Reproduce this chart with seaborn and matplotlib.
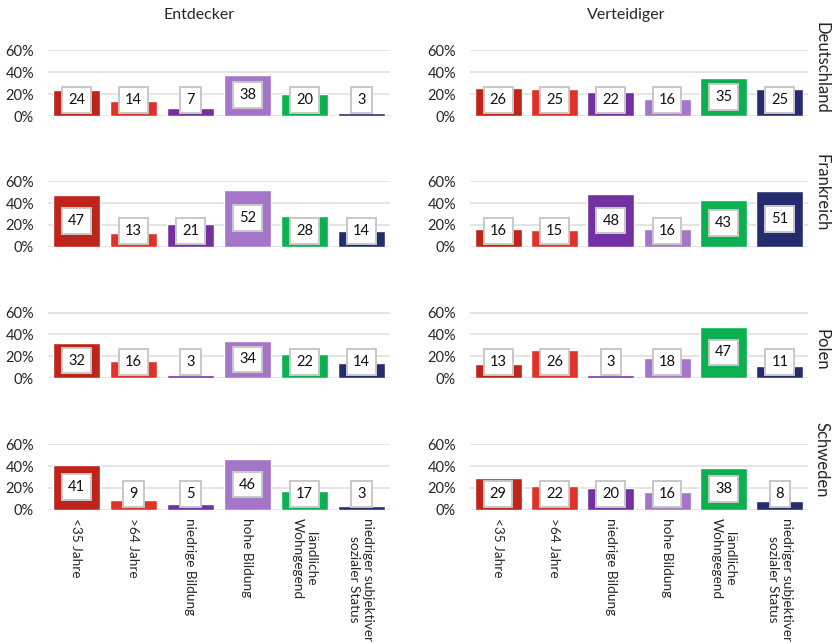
import matplotlib
matplotlib.use("Agg")
import matplotlib.pyplot as plt
import seaborn as sns
import pandas as pd
from matplotlib.ticker import PercentFormatter

sns.set_theme(style="white")
plt.rcParams["font.family"] = ["Lato", "DejaVu Sans"]

categories = ["<35 Jahre", ">64 Jahre", "niedrige Bildung", "hohe Bildung",
              "ländliche\nWohngegend", "niedriger subjektiver\nsozialer Status"]
colors = ["#BF241A", "#E03228", "#7430A0", "#A575C9", "#0BB150", "#252C6D"]
countries = ["Deutschland", "Frankreich", "Polen", "Schweden"]
groups = ["Entdecker", "Verteidiger"]

entdecker = {
    "Deutschland": [24, 14, 7, 38, 20, 3],
    "Frankreich": [47, 13, 21, 52, 28, 14],
    "Polen": [32, 16, 3, 34, 22, 14],
    "Schweden": [41, 9, 5, 46, 17, 3],
}
verteidiger = {
    "Deutschland": [26, 25, 22, 16, 35, 25],
    "Frankreich": [16, 15, 48, 16, 43, 51],
    "Polen": [13, 26, 3, 18, 47, 11],
    "Schweden": [29, 22, 20, 16, 38, 8],
}
values = {"Entdecker": entdecker, "Verteidiger": verteidiger}

W, H = 837, 644
fig = plt.figure(figsize=(W / 100, H / 100), dpi=100)

# pixel geometry of the panels
col_x = [(48, 390), (470, 808)]
row_zero = [116, 246.7, 378, 509.7]
px_per_60 = 65.5
ytop = 0.605

text_col = "#262626"
grid_col = "#E2E2E2"

for ci, grp in enumerate(groups):
    x0, x1 = col_x[ci]
    for ri, country in enumerate(countries):
        y0 = row_zero[ri]
        h_px = px_per_60 * ytop / 0.6
        ax = fig.add_axes([x0 / W, 1 - y0 / H, (x1 - x0) / W, h_px / H])
        vals = [v / 100 for v in values[grp][country]]
        df = pd.DataFrame({"cat": categories, "val": vals})
        sns.barplot(data=df, x="cat", y="val", hue="cat", palette=colors,
                    legend=False, width=0.84, saturation=1, ax=ax, zorder=2)
        ax.set_ylim(0, ytop)
        ax.set_xlim(-0.5, 5.5)
        ax.set_yticks([0, 0.2, 0.4, 0.6])
        ax.yaxis.set_major_formatter(PercentFormatter(1.0, decimals=0))
        ax.grid(axis="y", color=grid_col, linewidth=1.3, zorder=0)
        ax.set_axisbelow(True)
        for s in ax.spines.values():
            s.set_visible(False)
        ax.set_xlabel("")
        ax.set_ylabel("")
        ax.tick_params(axis="y", length=0, pad=10, labelsize=10.5, labelcolor=text_col)
        ax.tick_params(axis="x", length=0)
        if ri == len(countries) - 1:
            ax.set_xticks(range(len(categories)))
            ax.set_xticklabels(categories, rotation=270, ha="center", va="top",
                               multialignment="center", fontsize=9.8, color=text_col)
            ax.tick_params(axis="x", pad=6)
        else:
            ax.set_xticklabels([])
        for i, v in enumerate(vals):
            ax.text(i, max(v / 2, 0.145), f"{round(v * 100)}", ha="center", va="center",
                    fontsize=10.5, color="#111111", zorder=5,
                    bbox=dict(boxstyle="square,pad=0.4", facecolor="white",
                              edgecolor="#C8C8C8", linewidth=1.4))

fig.text(199 / W, 1 - 15 / H, "Entdecker", ha="center", va="center",
         fontsize=11.5, color=text_col)
fig.text(626 / W, 1 - 15 / H, "Verteidiger", ha="center", va="center",
         fontsize=11.5, color=text_col)

row_title_y = [68, 193, 350, 460]
for country, yc in zip(countries, row_title_y):
    fig.text(822 / W, 1 - yc / H, country, rotation=270, ha="center", va="center",
             fontsize=12, color=text_col)

fig.savefig("out.png", dpi=100, facecolor="white")
